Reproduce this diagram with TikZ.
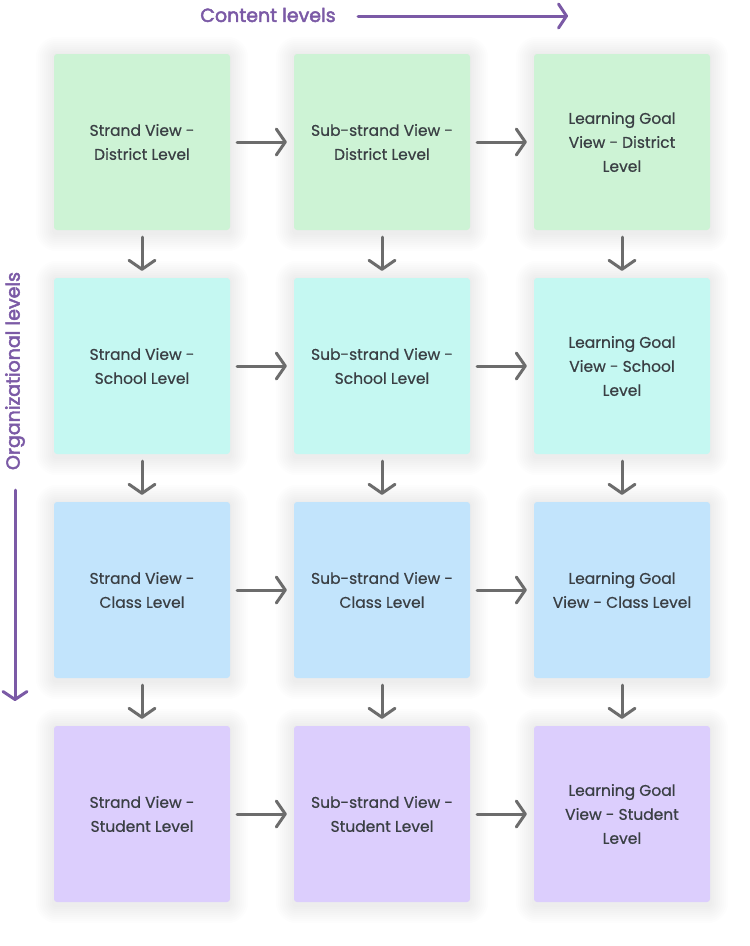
\documentclass[tikz,border=0pt]{standalone}
\usepackage{fontspec}
\setmainfont{Poppins}[FakeBold=0.6]
\newfontfamily\labelfont{Poppins}[FakeBold=2.5]
\usetikzlibrary{arrows.meta,backgrounds}
\definecolor{cgreen}{RGB}{205,243,213}
\definecolor{ccyan}{RGB}{197,248,242}
\definecolor{cblue}{RGB}{194,228,252}
\definecolor{cpurple}{RGB}{220,206,253}
\definecolor{ctext}{RGB}{58,63,68}
\definecolor{carrow}{RGB}{108,108,108}
\definecolor{clabel}{RGB}{123,90,166}
\begin{document}
\begin{tikzpicture}[x=1pt,y=-1pt,
  box/.style={minimum width=176pt,minimum height=176pt,inner sep=0pt,rounded corners=3pt,
    align=center,font=\fontsize{15.5}{24}\selectfont,text=ctext},
  halo/.style={fill=black,opacity=0.006},
  conn/.style={draw=carrow,line width=3pt,line cap=round,
    -{Straight Barb[length=9pt,width=26pt,line cap=round,line join=round]},
    shorten <=7pt,shorten >=7pt},
  axis/.style={draw=clabel,line width=3pt,line cap=round,
    -{Straight Barb[length=8pt,width=24pt,line cap=round,line join=round]}},
  axislabel/.style={text=clabel,font=\labelfont\fontsize{19}{22}\selectfont,inner sep=0pt}]
\useasboundingbox (0,0) rectangle (750,946);
% row 1
\node[box,fill=cgreen] (a1) at (142,142) {Strand View -\\District Level};
\node[box,fill=cgreen] (a2) at (382,142) {Sub-strand View -\\District Level};
\node[box,fill=cgreen] (a3) at (622,142) {Learning Goal\\View - District\\Level};
% row 2
\node[box,fill=ccyan] (b1) at (142,366) {Strand View -\\School Level};
\node[box,fill=ccyan] (b2) at (382,366) {Sub-strand View -\\School Level};
\node[box,fill=ccyan] (b3) at (622,366) {Learning Goal\\View - School\\Level};
% row 3
\node[box,fill=cblue] (c1) at (142,590) {Strand View -\\Class Level};
\node[box,fill=cblue] (c2) at (382,590) {Sub-strand View -\\Class Level};
\node[box,fill=cblue] (c3) at (622,590) {Learning Goal\\View - Class Level};
% row 4
\node[box,fill=cpurple] (d1) at (142,814) {Strand View -\\Student Level};
\node[box,fill=cpurple] (d2) at (382,814) {Sub-strand View -\\Student Level};
\node[box,fill=cpurple] (d3) at (622,814) {Learning Goal\\View - Student\\Level};
% soft halos behind the boxes
\begin{scope}[on background layer]
\fill[white] (0,0) rectangle (750,946);
\foreach \n in {a1,a2,a3,b1,b2,b3,c1,c2,c3,d1,d2,d3}{
  \foreach \s in {2,4,...,18}{
    \fill[halo,rounded corners=\s pt+3pt] ([xshift=-\s pt,yshift=\s pt-1pt]\n.north west) rectangle ([xshift=\s pt,yshift=-\s pt-3pt]\n.south east);
  }
}
\end{scope}
% horizontal connectors
\foreach \r in {a,b,c,d}{
  \draw[conn] (\r1) -- (\r2);
  \draw[conn] (\r2) -- (\r3);
}
% vertical connectors
\foreach \c in {1,2,3}{
  \draw[conn] (a\c) -- (b\c);
  \draw[conn] (b\c) -- (c\c);
  \draw[conn] (c\c) -- (d\c);
}
% axes
\node[axislabel] (content) at (268,15) {Content levels};
\coordinate (cs) at (358,16);
\coordinate (ce) at (568,16);
\draw[axis] (cs) -- (ce);
\node[axislabel,rotate=90] (org) at (15,371) {Organizational levels};
\coordinate (os) at (15,490);
\coordinate (oe) at (15,701);
\draw[axis] (os) -- (oe);
\end{tikzpicture}
\end{document}
